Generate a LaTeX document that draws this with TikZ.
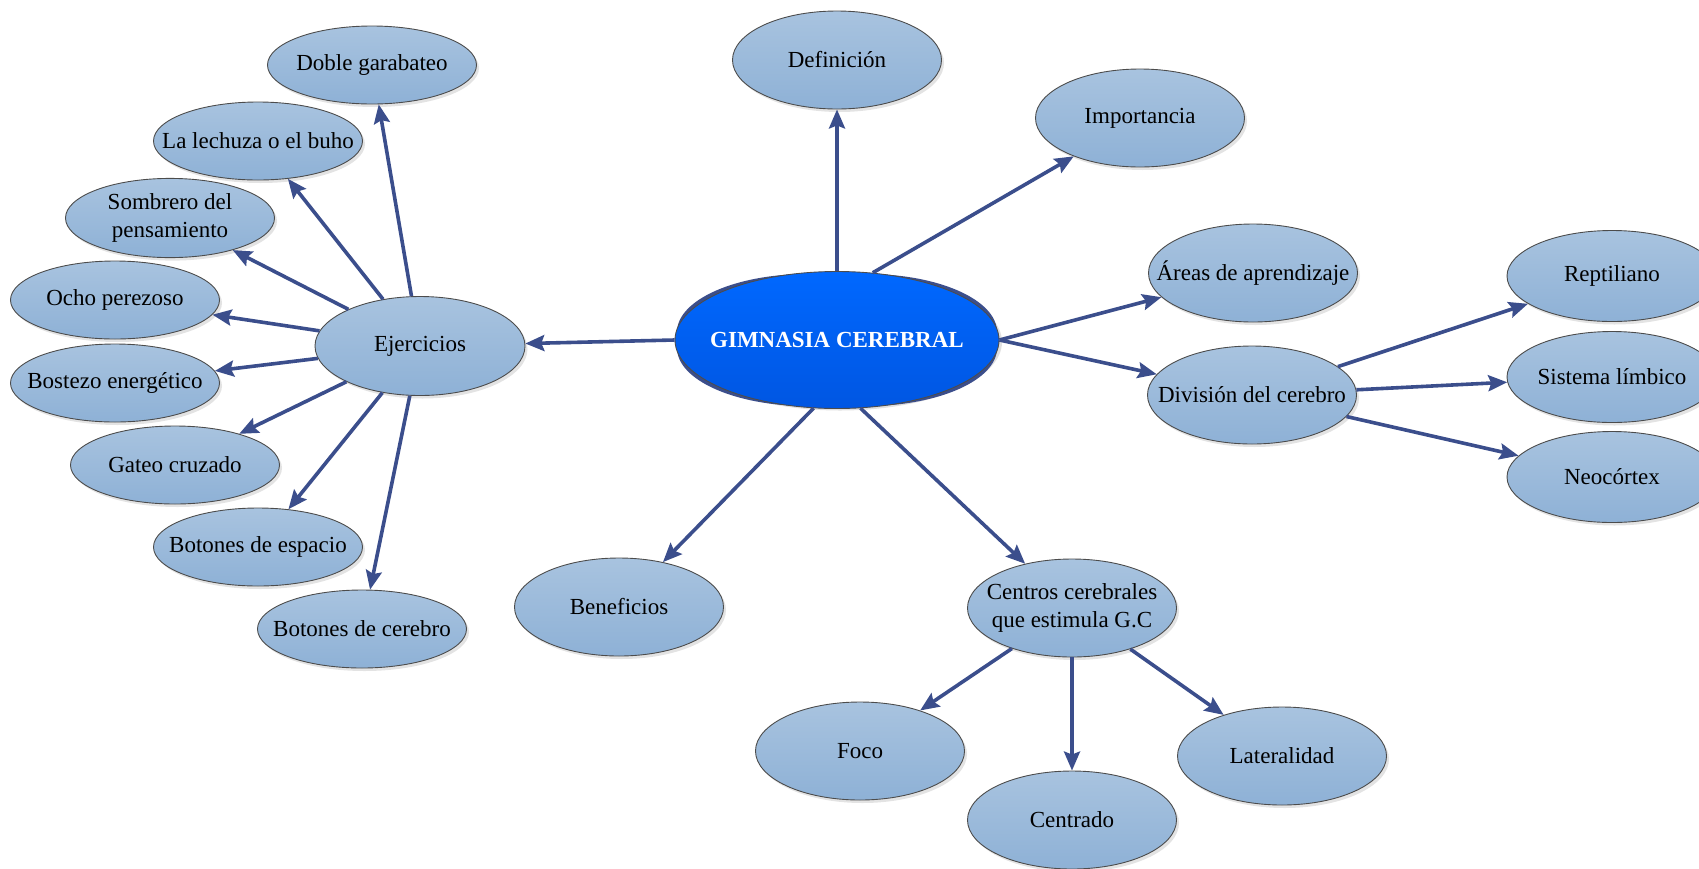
\documentclass[tikz,border=0pt]{standalone}
\usepackage{fontspec}
\setmainfont{Liberation Serif}
\usetikzlibrary{shapes.geometric, arrows.meta, shadows}
\definecolor{navyc}{HTML}{3B4E8C}
\definecolor{bubtop}{HTML}{A8C3DF}
\definecolor{bubbot}{HTML}{8EB1D6}
\definecolor{cenTop}{HTML}{0068FF}
\definecolor{cenBot}{HTML}{0056E2}
\newcommand{\ct}[1]{\makebox[0pt]{#1}}
\newcommand{\cttwo}[2]{\makebox[0pt]{\begin{tabular}{@{}c@{}}#1\\#2\end{tabular}}}
\begin{document}
\begin{tikzpicture}[x=1pt, y=-1pt,
  font=\fontsize{23pt}{28pt}\selectfont,
  bub/.style={ellipse, draw=black!70, line width=0.9pt, top color=bubtop, bottom color=bubbot,
    inner sep=0pt, minimum width=209pt, minimum height=98pt,
    drop shadow={shadow xshift=2.5pt, shadow yshift=-3pt, opacity=0.22}},
  smallbub/.style={bub, minimum height=78pt},
  rightbub/.style={bub, minimum width=210pt, minimum height=91pt},
  cen/.style={ellipse, draw=black!70, line width=0.9pt, top color=cenTop, bottom color=cenBot,
    inner sep=0pt, minimum width=324pt, minimum height=137pt, text=white, font=\fontsize{23pt}{28pt}\selectfont\bfseries},
  arr/.style={draw=navyc, line width=3.6pt, -{Stealth[length=19pt, width=16pt, inset=3pt]}}
]
\useasboundingbox (0,0) rectangle (1699,868);

% soft shadow and navy backing shape of the central node
\fill[black, opacity=0.12] (840,342) ellipse[x radius=162, y radius=68.5];
\begin{scope}[shift={(837,340)}, y=1pt]
  \fill[navyc] (-160,0) -- (-160,8)
    arc[start angle=180, end angle=90, x radius=130, y radius=58] -- (30,66)
    arc[start angle=90, end angle=0, x radius=130, y radius=58] -- (160,-8)
    arc[start angle=0, end angle=-90, x radius=130, y radius=58] -- (-30,-66)
    arc[start angle=270, end angle=180, x radius=130, y radius=58] -- cycle;
\end{scope}

\node[cen] (central) at (837,340) {\ct{GIMNASIA CEREBRAL}};

% left branch
\node[bub, minimum width=210pt, minimum height=99pt] (ejer) at (420,346) {\ct{Ejercicios}};
\node[smallbub] (doble) at (372,65) {\ct{Doble garabateo}};
\node[smallbub] (lechuza) at (258,141) {\ct{La lechuza o el buho}};
\node[smallbub] (sombrero) at (170,218) {\cttwo{Sombrero del}{pensamiento}};
\node[smallbub] (ocho) at (115,300) {\ct{Ocho perezoso}};
\node[smallbub] (bostezo) at (115,383) {\ct{Bostezo energético}};
\node[smallbub] (gateo) at (175,465) {\ct{Gateo cruzado}};
\node[smallbub] (espacio) at (258,547) {\ct{Botones de espacio}};
\node[smallbub] (bcerebro) at (362,629) {\ct{Botones de cerebro}};

% top
\node[bub] (defin) at (837,60) {\ct{Definición}};
\node[bub] (imp) at (1140,118) {\ct{Importancia}};

% right
\node[bub] (areas) at (1253,273) {\ct{Áreas de aprendizaje}};
\node[bub] (divi) at (1252,395) {\ct{División del cerebro}};
\node[rightbub] (rept) at (1612,276) {\ct{Reptiliano}};
\node[rightbub] (sist) at (1612,377) {\ct{Sistema límbico}};
\node[rightbub] (neo) at (1612,477) {\ct{Neocórtex}};

% bottom
\node[bub] (benef) at (619,607) {\ct{Beneficios}};
\node[bub] (centros) at (1072,608) {\cttwo{Centros cerebrales}{que estimula G.C}};
\node[bub] (foco) at (860,751) {\ct{Foco}};
\node[bub] (centrado) at (1072,820) {\ct{Centrado}};
\node[bub] (lateral) at (1282,756) {\ct{Lateralidad}};

% connectors from the central node
\draw[arr] (central.north) -- (defin);
\draw[arr] (central.62) -- (imp);
\draw[arr] (central.east) -- (areas);
\draw[arr] (central.east) -- (divi);
\draw[arr] (central.251) -- (benef);
\draw[arr] (central.289) -- (centros);
\draw[arr] (central.west) -- (ejer);

% Ejercicios
\foreach \t in {doble,lechuza,sombrero,ocho,bostezo,gateo,espacio,bcerebro}
  \draw[arr] (ejer) -- (\t);

% División del cerebro
\foreach \t in {rept,sist,neo}
  \draw[arr] (divi) -- (\t);

% Centros cerebrales
\foreach \t in {foco,centrado,lateral}
  \draw[arr] (centros) -- (\t);
\end{tikzpicture}
\end{document}
